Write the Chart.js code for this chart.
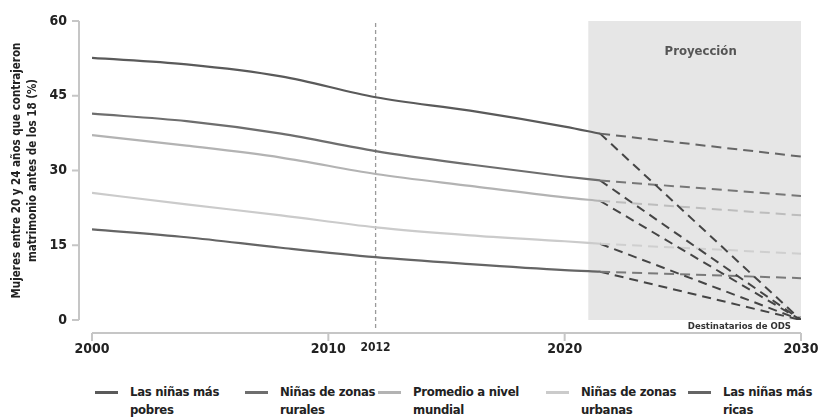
<!DOCTYPE html>
<html lang="es">
<head>
<meta charset="utf-8">
<script src="https://cdn.jsdelivr.net/npm/chart.js@4.4.1/dist/chart.umd.min.js"></script>
<style>
  body { margin: 0; background: #fff; }
  #wrap { position: relative; width: 818px; height: 417px; }
  #chartBox { position: absolute; left: 0; top: 0; width: 818px; height: 372px; }
  #legend {
    position: absolute; left: 95px; top: 383px;
    display: grid; grid-template-columns: 150px 133px 168px 142px auto;
    font: bold 13px/18px 'DejaVu Sans Condensed', 'Liberation Sans Narrow', sans-serif;
    letter-spacing: -0.3px;
    color: #222;
  }
  .item { display: flex; align-items: flex-start; white-space: nowrap; }
  .swatch { width: 23px; height: 3px; margin-top: 8px; margin-right: 12px; flex: none; }
</style>
</head>
<body>
<div id="wrap">
  <div id="chartBox"><canvas id="myChart"></canvas></div>
  <div id="legend"></div>
</div>
<script>
const FONT = "'DejaVu Sans Condensed', 'Liberation Sans Narrow', sans-serif";

// observed values, % of women 20-24 married before 18
const years = [2000, 2004, 2008, 2012, 2016, 2020, 2021.5];
const poorest = [52.6, 51.3, 48.9, 44.7, 42.0, 38.8, 37.4];
const rural   = [41.4, 39.9, 37.4, 33.9, 31.2, 28.8, 28.0];
const average = [37.1, 35.0, 32.6, 29.3, 26.9, 24.6, 23.9];
const urban   = [25.5, 23.2, 21.0, 18.6, 17.0, 15.8, 15.3];
const richest = [18.2, 16.6, 14.5, 12.6, 11.2, 10.0, 9.7];

const seriesNames = [
  ['Las niñas más', 'pobres'],
  ['Niñas de zonas', 'rurales'],
  ['Promedio a nivel', 'mundial'],
  ['Niñas de zonas', 'urbanas'],
  ['Las niñas más', 'ricas']
];

// projection: current trend vs. reaching the SDG target by 2030
const targetYear = 2030;
const trend2030 = [32.8, 24.9, 21.0, 13.3, 8.4];
const sdgTarget = 0;
const projectionFrom = 2021;
const markerYear = 2012;

const xTicks = [2000, 2010, 2012, 2020, 2030];
const yTicks = [0, 15, 30, 45, 60];

const lineColors  = ['#5a5a5a', '#6e6e6e', '#b3b3b3', '#cbcbcb', '#656565'];
const trendColors = ['#666666', '#777777', '#bdbdbd', '#cfcfcf', '#7a7a7a'];
const axisGap = 13;

const seriesValues = [poorest, rural, average, urban, richest];
const datasets = [];

seriesValues.forEach((vals, i) => {
  const last = { x: years[years.length - 1], y: vals[vals.length - 1] };
  datasets.push({
    label: seriesNames[i].join(' '),
    data: years.map((yr, j) => ({ x: yr, y: vals[j] })),
    borderColor: lineColors[i],
    borderWidth: 2.2,
    pointRadius: 0,
    cubicInterpolationMode: 'monotone'
  });
  datasets.push({
    label: 'trend',
    data: [last, { x: targetYear, y: trend2030[i] }],
    borderColor: trendColors[i],
    borderWidth: 2,
    borderDash: [10, 6],
    pointRadius: 0
  });
  datasets.push({
    label: 'ods',
    data: [last, { x: targetYear, y: sdgTarget }],
    borderColor: '#454545',
    borderWidth: 2,
    borderDash: [9, 6],
    pointRadius: 0
  });
});

datasets.push({
  label: 'Destinatarios de ODS',
  data: [{ x: targetYear, y: sdgTarget }],
  pointRadius: 4,
  pointBackgroundColor: '#a3a3a3',
  pointBorderWidth: 0,
  showLine: false
});

const decorations = {
  id: 'decorations',
  beforeDatasetsDraw(chart) {
    const { ctx, scales: { x, y } } = chart;
    const left = x.getPixelForValue(projectionFrom);
    const right = x.getPixelForValue(targetYear);
    const top = y.getPixelForValue(60);
    const bottom = y.getPixelForValue(0);
    ctx.save();
    ctx.fillStyle = '#e6e6e6';
    ctx.fillRect(left, top, right - left, bottom - top);
    ctx.fillStyle = '#555';
    ctx.font = 'bold 13px ' + FONT;
    ctx.textAlign = 'center';
    ctx.textBaseline = 'middle';
    ctx.fillText('Proyección', (left + right) / 2 + 6, top + 31);

    const mx = x.getPixelForValue(markerYear);
    ctx.strokeStyle = '#9a9a9a';
    ctx.lineWidth = 1.3;
    ctx.setLineDash([4, 3]);
    ctx.beginPath();
    ctx.moveTo(mx, top + 2);
    ctx.lineTo(mx, bottom + axisGap - 2);
    ctx.stroke();
    ctx.restore();
  },
  afterDraw(chart) {
    const { ctx, scales: { x, y } } = chart;
    const ax = x.getPixelForValue(2000) - axisGap;
    const ay = y.getPixelForValue(0) + axisGap;
    ctx.save();
    ctx.strokeStyle = '#c6c6c6';
    ctx.lineWidth = 2;
    ctx.beginPath();
    ctx.moveTo(ax, y.getPixelForValue(60));
    ctx.lineTo(ax, y.getPixelForValue(0));
    yTicks.forEach(v => {
      const py = y.getPixelForValue(v);
      ctx.moveTo(ax - 7, py);
      ctx.lineTo(ax, py);
    });
    ctx.moveTo(x.getPixelForValue(2000), ay);
    ctx.lineTo(x.getPixelForValue(2030), ay);
    xTicks.filter(v => v !== markerYear).forEach(v => {
      const px = x.getPixelForValue(v);
      ctx.moveTo(px, ay);
      ctx.lineTo(px, ay + 8);
    });
    ctx.stroke();

    ctx.fillStyle = '#333';
    ctx.font = 'bold 9.5px ' + FONT;
    ctx.textAlign = 'right';
    ctx.textBaseline = 'middle';
    ctx.fillText('Destinatarios de ODS', x.getPixelForValue(targetYear) - 10, y.getPixelForValue(0) + 7);
    ctx.restore();
  }
};

Chart.defaults.font.family = FONT;
Chart.defaults.font.weight = 'bold';
Chart.defaults.color = '#222';

const ctx = document.getElementById('myChart');
const myChart = new Chart(ctx, {
  type: 'line',
  data: { datasets: datasets },
  options: {
    responsive: true,
    maintainAspectRatio: false,
    animation: false,
    layout: { padding: { top: 21, right: 15, left: 0, bottom: 0 } },
    plugins: {
      legend: { display: false },
      tooltip: { enabled: false }
    },
    scales: {
      x: {
        type: 'linear',
        min: 2000,
        max: 2030,
        grid: { display: false, drawTicks: false },
        border: { display: false },
        afterBuildTicks: (scale) => { scale.ticks = xTicks.map(v => ({ value: v })); },
        afterFit: (scale) => { scale.height = 52; scale.paddingLeft = 0; scale.paddingRight = 17; },
        ticks: {
          padding: 21,
          maxRotation: 0,
          autoSkip: false,
          callback: (v) => String(v),
          font: (c) => ({ size: c.tick && c.tick.value === markerYear ? 12 : 14, weight: 'bold' })
        }
      },
      y: {
        min: 0,
        max: 60,
        grid: { display: false, drawTicks: false },
        border: { display: false },
        afterBuildTicks: (scale) => { scale.ticks = yTicks.map(v => ({ value: v })); },
        afterFit: (scale) => { scale.width = 92; scale.paddingTop = 0; scale.paddingBottom = 0; },
        ticks: { padding: 25, font: { size: 14, weight: 'bold' } },
        title: {
          display: true,
          text: ['Mujeres entre 20 y 24 años que contrajeron', 'matrimonio antes de los 18 (%)'],
          font: { size: 11.5, weight: 'bold', lineHeight: 1.39 },
          padding: { top: 9, bottom: 0 },
          color: '#222'
        }
      }
    }
  },
  plugins: [decorations]
});

// legend below the chart, built from the solid series
const legendEl = document.getElementById('legend');
seriesNames.forEach((name, i) => {
  const item = document.createElement('div');
  item.className = 'item';
  const sw = document.createElement('span');
  sw.className = 'swatch';
  sw.style.background = lineColors[i];
  const txt = document.createElement('span');
  txt.innerHTML = name.join('<br>');
  item.appendChild(sw);
  item.appendChild(txt);
  legendEl.appendChild(item);
});
</script>
</body>
</html>
